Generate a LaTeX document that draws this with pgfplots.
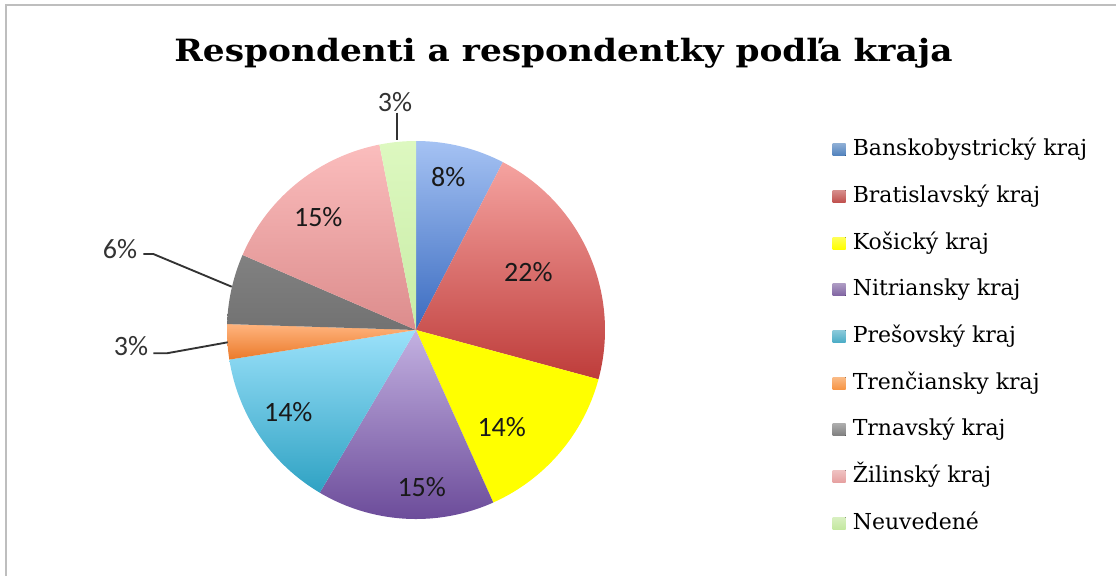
\documentclass[border=0pt]{standalone}
\usepackage{pgfplots}
\pgfplotsset{compat=1.18}
\usepackage{pgfplotstable}
\usepackage{fontspec}
\setmainfont{DejaVu Serif}
\newfontfamily\titlefont{DejaVu Serif}[FakeStretch=1.12]
\newfontfamily\legfont{DejaVu Serif}
\newfontfamily\lblfont{Carlito}

\definecolor{t0}{HTML}{A5C2F3}\definecolor{b0}{HTML}{3A6BC0}\definecolor{m0}{HTML}{4F81BD}
\definecolor{t1}{HTML}{F5A3A0}\definecolor{b1}{HTML}{BE3C3A}\definecolor{m1}{HTML}{C0504D}
\definecolor{t2}{HTML}{FFFF00}\definecolor{b2}{HTML}{FFFF00}\definecolor{m2}{HTML}{FFFF00}
\definecolor{t3}{HTML}{C3B1E1}\definecolor{b3}{HTML}{6C4C9A}\definecolor{m3}{HTML}{8064A2}
\definecolor{t4}{HTML}{9BE1FA}\definecolor{b4}{HTML}{2FA2C3}\definecolor{m4}{HTML}{4BACC6}
\definecolor{t5}{HTML}{FFB47E}\definecolor{b5}{HTML}{EB7A2A}\definecolor{m5}{HTML}{F79646}
\definecolor{t6}{HTML}{818181}\definecolor{b6}{HTML}{727272}\definecolor{m6}{HTML}{7F7F7F}
\definecolor{t7}{HTML}{FBBDBD}\definecolor{b7}{HTML}{DC8C8C}\definecolor{m7}{HTML}{E6A0A0}
\definecolor{t8}{HTML}{DDF8C0}\definecolor{b8}{HTML}{C8ECA6}\definecolor{m8}{HTML}{C4E8A0}
\definecolor{framegray}{HTML}{BEBEBE}

% share of respondents by region (percent)
\pgfplotstableread[col sep=comma]{
name,value
Banskobystrický kraj,7.6
Bratislavský kraj,21.6
Košický kraj,14.1
Nitriansky kraj,15.2
Prešovský kraj,14.0
Trenčiansky kraj,3.0
Trnavský kraj,6.0
Žilinský kraj,15.4
Neuvedené,3.1
}\pietable

\newcommand\cx{416}
\newcommand\cy{330}
\newcommand\R{189}
% legend entry: colour, baseline y, name
\newcommand\legentry[3]{%
  \fill[top color=#1!65!white, bottom color=#1] (axis cs:832.5,#2-12) rectangle (axis cs:845.5,#2);
  \node[anchor=base west, inner sep=0pt, font=\legfont\fontsize{16.5}{19}\selectfont]
    at (axis cs:852.5,#2) {#3};}

\begin{document}
\begin{tikzpicture}
\begin{axis}[
  scale only axis, width=837pt, height=432pt,
  xmin=0, xmax=1116, ymin=0, ymax=576, y dir=reverse,
  hide axis, clip=false,
]
\xdef\cum{0}
\pgfplotsinvokeforeach{0,...,8}{
  \pgfplotstablegetelem{#1}{value}\of\pietable
  \pgfmathsetmacro\aStart{\cum*3.6}
  \pgfmathsetmacro\aEnd{(\cum+\pgfplotsretval)*3.6}
  \pgfmathsetmacro\newcum{\cum+\pgfplotsretval}
  \xdef\cum{\newcum}
  \edef\temp{\noexpand\addplot[draw=none, top color=t#1, bottom color=b#1,
      domain=\aStart:\aEnd, samples=80, variable=\noexpand\t]
      ({\cx+\R*sin(\noexpand\t)},{\cy-\R*cos(\noexpand\t)}) -- (axis cs:\cx,\cy) -- cycle;}
  \temp
}
% data labels
\begin{scope}[every node/.style={font=\lblfont\fontsize{21}{24}\selectfont, text=black!90}]
\node at (axis cs:448.3,176.7) {8\%};
\node at (axis cs:528.3,271.7) {22\%};
\node at (axis cs:501.7,426.7) {14\%};
\node at (axis cs:421.7,486.7) {15\%};
\node at (axis cs:288.3,411.7) {14\%};
\node at (axis cs:318.3,216.7) {15\%};
\node[text=black!80] at (axis cs:395,101.7) {3\%};
\node[text=black!80] at (axis cs:120,249.3) {6\%};
\node[text=black!80] at (axis cs:131,346) {3\%};
\end{scope}
\draw[black!80, line width=1.4pt] (axis cs:396.7,112.7) -- (axis cs:396.7,140);
\draw[black!80, line width=1.4pt] (axis cs:143.3,254) -- (axis cs:153.3,254) -- (axis cs:231.7,286.7);
\draw[black!80, line width=1.4pt] (axis cs:153.3,353.3) -- (axis cs:166.7,353.3) -- (axis cs:227.7,342.3);
% title
\node[anchor=base, font=\titlefont\bfseries\fontsize{23}{26}\selectfont] at (axis cs:563.5,61.7)
  {Respondenti a respondentky podľa kraja};
% legend
\legentry{m0}{155.7}{Banskobystrický kraj}
\legentry{m1}{202.4}{Bratislavský kraj}
\legentry{m2}{249.0}{Košický kraj}
\legentry{m3}{295.7}{Nitriansky kraj}
\legentry{m4}{342.4}{Prešovský kraj}
\legentry{m5}{389.0}{Trenčiansky kraj}
\legentry{m6}{435.7}{Trnavský kraj}
\legentry{m7}{482.4}{Žilinský kraj}
\legentry{m8}{529.0}{Neuvedené}
% frame
\draw[framegray, line width=1.5pt] (axis cs:6,576) -- (axis cs:6,5) -- (axis cs:1116,5);
\end{axis}
\pgfresetboundingbox
\path (current axis.south west) rectangle (current axis.north east);
\end{tikzpicture}
\end{document}
